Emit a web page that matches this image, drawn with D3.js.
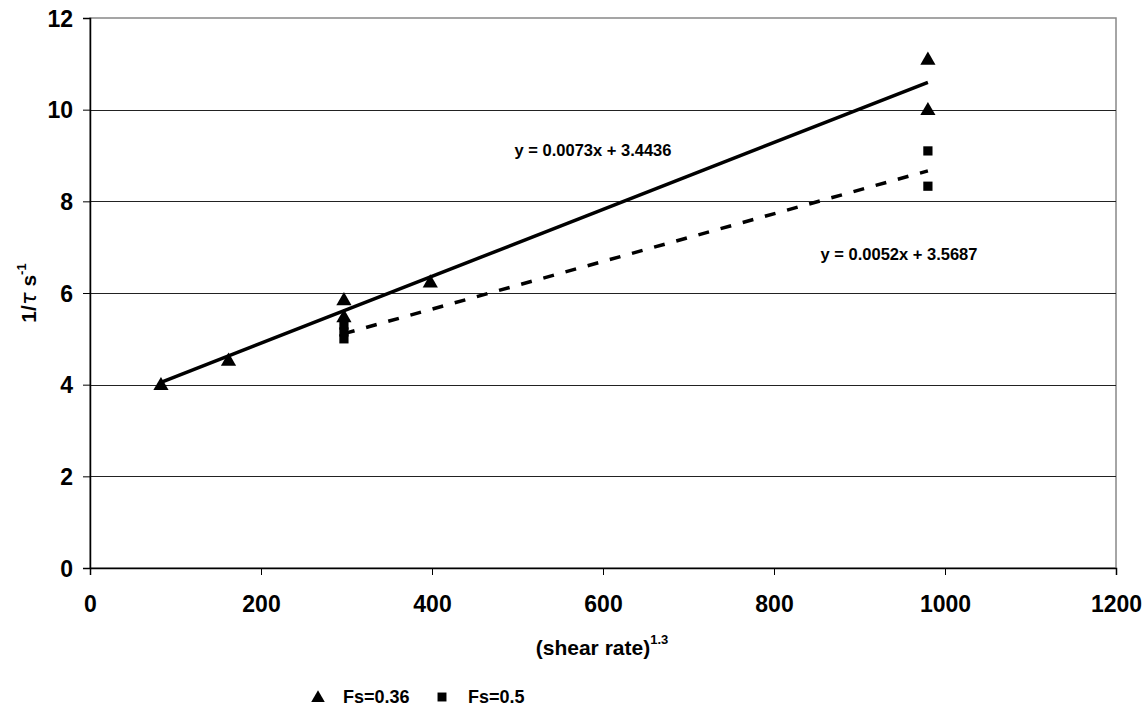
<!DOCTYPE html>
<html>
<head>
<meta charset="utf-8">
<script src="https://cdn.jsdelivr.net/npm/d3@7"></script>
<style>
  body { margin: 0; background: #fff; }
  text { font-family: "Liberation Sans", Arial, sans-serif; font-weight: bold; }
</style>
</head>
<body>
<script>
// Fs=0.36 points
const fs036X = [83, 162, 297, 297, 398, 980, 980];
const fs036Y = [4.0, 4.53, 5.85, 5.48, 6.24, 11.1, 10.0];
// Fs=0.5 points
const fs05X = [297, 297, 297, 980, 980];
const fs05Y = [5.3, 5.15, 5.0, 9.1, 8.33];
// trend lines: slope, intercept, range
const trend036 = { m: 0.0073, b: 3.4436, x0: 83, x1: 980 };
const trend05 = { m: 0.0052, b: 3.5687, x0: 297, x1: 980 };
const xTicks = [0, 200, 400, 600, 800, 1000, 1200];
const yTicks = [0, 2, 4, 6, 8, 10, 12];

const W = 1148, H = 709;
const margin = { top: 18, right: 32, bottom: 141, left: 90 };
const width = W - margin.left - margin.right,
  height = H - margin.top - margin.bottom;

const svg = d3.select("body").append("svg")
  .attr("width", W)
  .attr("height", H);

const x = d3.scaleLinear().domain([0, 1200]).range([margin.left, margin.left + width]);
const y = d3.scaleLinear().domain([0, 12]).range([margin.top + height, margin.top]);

// plot border (grey top/right)
svg.append("rect")
  .attr("x", x(0)).attr("y", y(12))
  .attr("width", x(1200) - x(0)).attr("height", y(0) - y(12))
  .attr("fill", "none").attr("stroke", "#888").attr("stroke-width", 1.5);

// gridlines
svg.append("g")
  .selectAll("line")
  .data(yTicks.filter(d => d > 0 && d < 12))
  .enter().append("line")
  .attr("x1", x(0)).attr("x2", x(1200))
  .attr("y1", d => Math.round(y(d)) + 0.5).attr("y2", d => Math.round(y(d)) + 0.5)
  .attr("stroke", "#222").attr("stroke-width", 1);

// axes
const xAxis = svg.append("g")
  .attr("transform", "translate(0," + y(0) + ")")
  .call(d3.axisBottom(x).tickValues(xTicks).tickSize(7).tickPadding(21).tickFormat(d3.format("d")));
const yAxis = svg.append("g")
  .attr("transform", "translate(" + x(0) + ",0)")
  .call(d3.axisLeft(y).tickValues(yTicks).tickSize(7).tickPadding(10).tickFormat(d3.format("d")));
[xAxis, yAxis].forEach(a => {
  a.select(".domain").attr("stroke", "#000").attr("stroke-width", 1.5);
  a.selectAll(".tick line").attr("stroke", "#000");
  a.selectAll(".tick text").attr("font-size", 23).attr("fill", "#000")
    .style("font-family", '"Liberation Sans", Arial, sans-serif').style("font-weight", "bold");
});
yAxis.selectAll(".tick text").attr("dy", "0.36em");

// trend lines
const trendLine = t => [[t.x0, t.m * t.x0 + t.b], [t.x1, t.m * t.x1 + t.b]];
const line = d3.line().x(d => x(d[0])).y(d => y(d[1]));
svg.append("path")
  .attr("d", line(trendLine(trend036)))
  .attr("stroke", "#000").attr("stroke-width", 3.5).attr("fill", "none");
svg.append("path")
  .attr("d", line(trendLine(trend05)))
  .attr("stroke", "#000").attr("stroke-width", 3.5).attr("fill", "none")
  .attr("stroke-dasharray", "11,12");

// markers
const tri = d3.symbol().type(d3.symbolTriangle).size(100);
const sq = d3.symbol().type(d3.symbolSquare).size(85);
svg.append("g").selectAll("path")
  .data(fs05X.map((d, i) => [d, fs05Y[i]]))
  .enter().append("path")
  .attr("d", sq)
  .attr("transform", d => "translate(" + x(d[0]) + "," + y(d[1]) + ")")
  .attr("fill", "#000");
svg.append("g").selectAll("path")
  .data(fs036X.map((d, i) => [d, fs036Y[i]]))
  .enter().append("path")
  .attr("d", tri)
  .attr("transform", d => "translate(" + x(d[0]) + "," + (y(d[1]) + 1) + ")")
  .attr("fill", "#000");

// equation labels
svg.append("text")
  .attr("x", 593).attr("y", 156).attr("text-anchor", "middle")
  .attr("font-size", 16.5).text("y = 0.0073x + 3.4436");
svg.append("text")
  .attr("x", 899).attr("y", 260).attr("text-anchor", "middle")
  .attr("font-size", 16.5).text("y = 0.0052x + 3.5687");

// axis titles
const xt = svg.append("text")
  .attr("x", 602).attr("y", 655).attr("text-anchor", "middle")
  .attr("font-size", 21);
xt.append("tspan").text("(shear rate)");
xt.append("tspan").attr("font-size", 13).attr("dy", -11).text("1.3");

const yt = svg.append("text")
  .attr("transform", "translate(36,293) rotate(-90)")
  .attr("text-anchor", "middle")
  .attr("font-size", 21);
yt.append("tspan").text("1/");
yt.append("tspan").style("font-style", "italic").style("font-family", "'DejaVu Sans', sans-serif").style("font-weight", "normal").text("τ");
yt.append("tspan").text(" s");
yt.append("tspan").attr("font-size", 13).attr("dy", -10).text("-1");

// legend
const legend = svg.append("g");
legend.append("path").attr("d", d3.symbol().type(d3.symbolTriangle).size(80))
  .attr("transform", "translate(318,698)").attr("fill", "#000");
legend.append("text").attr("x", 343).attr("y", 703).attr("font-size", 18).text("Fs=0.36");
legend.append("path").attr("d", d3.symbol().type(d3.symbolSquare).size(80))
  .attr("transform", "translate(442,697)").attr("fill", "#000");
legend.append("text").attr("x", 468).attr("y", 703).attr("font-size", 18).text("Fs=0.5");
</script>
</body>
</html>
